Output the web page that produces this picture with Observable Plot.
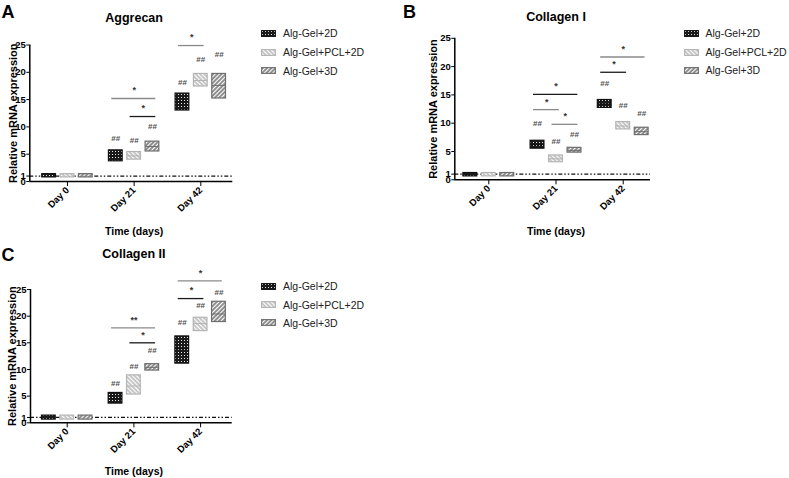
<!DOCTYPE html>
<html><head><meta charset="utf-8">
<script src="https://cdn.jsdelivr.net/npm/d3@7"></script>
<script src="https://cdn.jsdelivr.net/npm/@observablehq/plot@0.6"></script>
<style>
body{margin:0;background:#fff;}
#wrap{position:relative;width:789px;height:478px;font-family:"Liberation Sans",Arial,sans-serif;overflow:hidden;background:#fff;}
.panel{position:absolute;}
.letter{position:absolute;font-weight:bold;font-size:18px;line-height:1;color:#000;}
.leg{position:absolute;font-size:10.5px;color:#222;display:flex;align-items:center;height:12px;white-space:nowrap;}
.leg svg{margin-right:7px;}
</style></head><body>
<svg width="0" height="0" style="position:absolute">
<defs>
<pattern id="pat0" patternUnits="userSpaceOnUse" width="3" height="3"><rect width="3" height="3" fill="#1a1a1a"/><rect x="1" y="1" width="1" height="1" fill="#e8e8e8"/></pattern>
<pattern id="pat1" patternUnits="userSpaceOnUse" width="3" height="3" patternTransform="rotate(-45)"><rect width="3" height="3" fill="#c4c4c4"/><rect width="1.1" height="3" fill="#fff"/></pattern>
<pattern id="pat2" patternUnits="userSpaceOnUse" width="3" height="3" patternTransform="rotate(45)"><rect width="3" height="3" fill="#8a8a8a"/><rect width="1.1" height="3" fill="#fff"/></pattern>
</defs></svg>
<div id="wrap"></div>
<script>
const days = ["Day 0", "Day 21", "Day 42"];
const groups = ["Alg-Gel+2D", "Alg-Gel+PCL+2D", "Alg-Gel+3D"];
const yTicks = [0, 1, 5, 10, 15, 20, 25];

// Aggrecan (min / max / mean per [day][group])
const aggMin  = [[0.75,0.75,0.75],[3.7,4.0,5.5],[13.0,17.4,15.2]];
const aggMax  = [[1.35,1.35,1.35],[5.7,5.4,7.3],[16.1,19.7,19.7]];
const aggMean = [[1,1,1],[4.7,4.7,6.4],[14.6,18.5,17.6]];
const aggHash = [[null,null,null],[7.8,7.6,10.1],[18.2,22.4,23.2]];
const aggSig  = [
  {day:1, from:0, to:2, y:15.2, label:"*", tone:"light"},
  {day:1, from:1, to:2, y:11.9, label:"*", tone:"dark"},
  {day:2, from:0, to:1, y:24.9, label:"*", tone:"light"}
];

// Collagen I
const col1Min  = [[0.6,0.6,0.6],[5.5,3.1,4.8],[12.7,8.9,7.9]];
const col1Max  = [[1.2,1.2,1.2],[6.9,4.3,5.65],[14.1,10.2,9.2]];
const col1Mean = [[0.9,0.9,0.9],[6.2,3.7,5.2],[13.4,9.5,8.5]];
const col1Hash = [[null,null,null],[10.0,6.8,8.1],[17.0,13.1,11.7]];
const col1Sig  = [
  {day:1, from:0, to:2, y:15.1, label:"*", tone:"dark"},
  {day:1, from:0, to:1, y:12.4, label:"*", tone:"light"},
  {day:1, from:1, to:2, y:9.8,  label:"*", tone:"light"},
  {day:2, from:0, to:2, y:21.7, label:"*", tone:"light"},
  {day:2, from:0, to:1, y:19.0, label:"*", tone:"dark"}
];

// Collagen II
const col2Min  = [[0.6,0.6,0.6],[3.6,5.3,9.8],[11.1,17.2,18.9]];
const col2Max  = [[1.35,1.35,1.35],[5.6,8.9,11.0],[16.2,19.7,22.7]];
const col2Mean = [[1,1,1],[4.5,6.9,10.4],[13.9,18.6,20.4]];
const col2Hash = [[null,null,null],[7.3,10.6,13.6],[18.9,22.0,24.5]];
const col2Sig  = [
  {day:1, from:0, to:2, y:17.8, label:"**", tone:"light"},
  {day:1, from:1, to:2, y:15.0, label:"*",  tone:"dark"},
  {day:2, from:0, to:2, y:26.6, label:"*",  tone:"light"},
  {day:2, from:0, to:1, y:23.3, label:"*",  tone:"dark"}
];

const borders = ["#111", "#b4b4b4", "#6e6e6e"];
const tones = {light: "#8a8a8a", dark: "#1a1a1a"};
const OFF = 0.275, HW = 0.103;
const pos = (di, gi) => di + (gi - 1) * OFF;

const panels = [
  {letter:"A", title:"Aggrecan", min:aggMin, max:aggMax, mean:aggMean, hash:aggHash, sig:aggSig,
   left:0, top:0, width:250, height:240, mL:29.3, mR:17.7, mT:44.5, mB:59, xdom:[-0.565,2.48],
   yLabDx:-16.3, xTitDy:50, titDy:-27.5, letterPos:[1.5,3], legend:{sw:261, top:[33.3,52.3,70.7]}},
  {letter:"B", title:"Collagen I", min:col1Min, max:col1Max, mean:col1Mean, hash:col1Hash, sig:col1Sig,
   left:400, top:0, width:260, height:240, mL:54.3, mR:10, mT:37.8, mB:60.7, xdom:[-0.506,2.406],
   yLabDx:-21.3, xTitDy:51.7, titDy:-21.5, letterPos:[403,3], legend:{sw:683.5, top:[33,52,70]}},
  {letter:"C", title:"Collagen II", min:col2Min, max:col2Max, mean:col2Mean, hash:col2Hash, sig:col2Sig,
   left:0, top:240, width:250, height:238, mL:30, mR:18.3, mT:49, mB:55.7, xdom:[-0.55,2.474],
   yLabDx:-18, xTitDy:48.7, titDy:-36, letterPos:[1.5,246], legend:{sw:261, top:[286,304.5,322.7]}}
];

const wrap = document.getElementById("wrap");

for (const p of panels) {
  const rows = [];
  days.forEach((d, di) => groups.forEach((g, gi) => rows.push({
    di, gi, lo: p.min[di][gi], hi: p.max[di][gi], mean: p.mean[di][gi], hash: p.hash[di][gi]
  })));
  const chart = Plot.plot({
    width: p.width, height: p.height,
    marginLeft: p.mL, marginRight: p.mR, marginTop: p.mT, marginBottom: p.mB,
    x: {domain: p.xdom},
    y: {domain: [0, 25]},
    color: {type: "identity"},
    style: {fontFamily: '"Liberation Sans", Arial, sans-serif', fontSize: "9px", color: "#000", background: "transparent", overflow: "visible"},
    marks: [
      Plot.ruleY([1], {stroke: "#111", strokeWidth: 1.2, strokeDasharray: "4,2,1.5,2,1.5,2"}),
      Plot.rect(rows, {
        x1: r => pos(r.di, r.gi) - HW, x2: r => pos(r.di, r.gi) + HW,
        y1: "lo", y2: "hi",
        fill: r => `url(#pat${r.gi})`, stroke: r => borders[r.gi], strokeWidth: 1.2
      }),
      Plot.ruleY(rows.filter(r => r.di > 0), {
        y: "mean", x1: r => pos(r.di, r.gi) - HW, x2: r => pos(r.di, r.gi) + HW,
        stroke: r => borders[r.gi], strokeWidth: 1
      }),
      Plot.text(rows.filter(r => r.hash != null), {
        x: r => pos(r.di, r.gi), y: "hash", text: () => "##",
        fontSize: 8, fontWeight: "bold", fill: "#505050"
      }),
      Plot.ruleY(p.sig, {
        y: "y", x1: s => pos(s.day, s.from) - 0.06, x2: s => pos(s.day, s.to) + 0.05,
        stroke: s => tones[s.tone], strokeWidth: 1.3
      }),
      Plot.text(p.sig, {
        x: s => (pos(s.day, s.from) + pos(s.day, s.to)) / 2, y: "y", text: "label",
        dy: -8, fill: "#333", fontSize: 9, fontWeight: "bold"
      }),
      Plot.axisY({ticks: yTicks, tickSize: 3, tickPadding: 1, fontWeight: "bold", fontSize: 9.5, label: null}),
      Plot.axisX({ticks: [0, 1, 2], tickFormat: i => days[i], tickRotate: -45, tickSize: 5, tickPadding: 2,
                  fontWeight: "bold", fontSize: 9.5, label: null}),
      Plot.ruleY([0], {stroke: "#000", strokeWidth: 1.5}),
      Plot.ruleX([p.xdom[0]], {stroke: "#000", strokeWidth: 1.5}),
      Plot.text(["Relative mRNA expression"], {frameAnchor: "left", rotate: -90, dx: p.yLabDx,
                 textAnchor: "middle", fontWeight: "bold", fontSize: 11, lineAnchor: "middle"}),
      Plot.text(["Time (days)"], {x: 1, y: 0, dy: p.xTitDy, fontWeight: "bold", fontSize: 10.5, lineAnchor: "middle"}),
      Plot.text([p.title], {x: 1, y: 25, dy: p.titDy, fontWeight: "bold", fontSize: 12.5, lineAnchor: "middle"})
    ]
  });
  chart.classList.add("panel");
  chart.style.left = p.left + "px";
  chart.style.top = p.top + "px";
  wrap.appendChild(chart);

  const L = document.createElement("div");
  L.className = "letter";
  L.textContent = p.letter;
  L.style.left = p.letterPos[0] + "px";
  L.style.top = p.letterPos[1] + "px";
  wrap.appendChild(L);

  groups.forEach((g, gi) => {
    const d = document.createElement("div");
    d.className = "leg";
    d.style.left = p.legend.sw + "px";
    d.style.top = (p.legend.top[gi] - 6) + "px";
    d.innerHTML = `<svg width="15" height="7"><rect x="0.6" y="0.6" width="13.8" height="5.8" fill="url(#pat${gi})" stroke="${borders[gi]}" stroke-width="1.1"/></svg>`;
    const s = document.createElement("span");
    s.textContent = g;
    d.appendChild(s);
    wrap.appendChild(d);
  });
}
</script>
</body></html>
